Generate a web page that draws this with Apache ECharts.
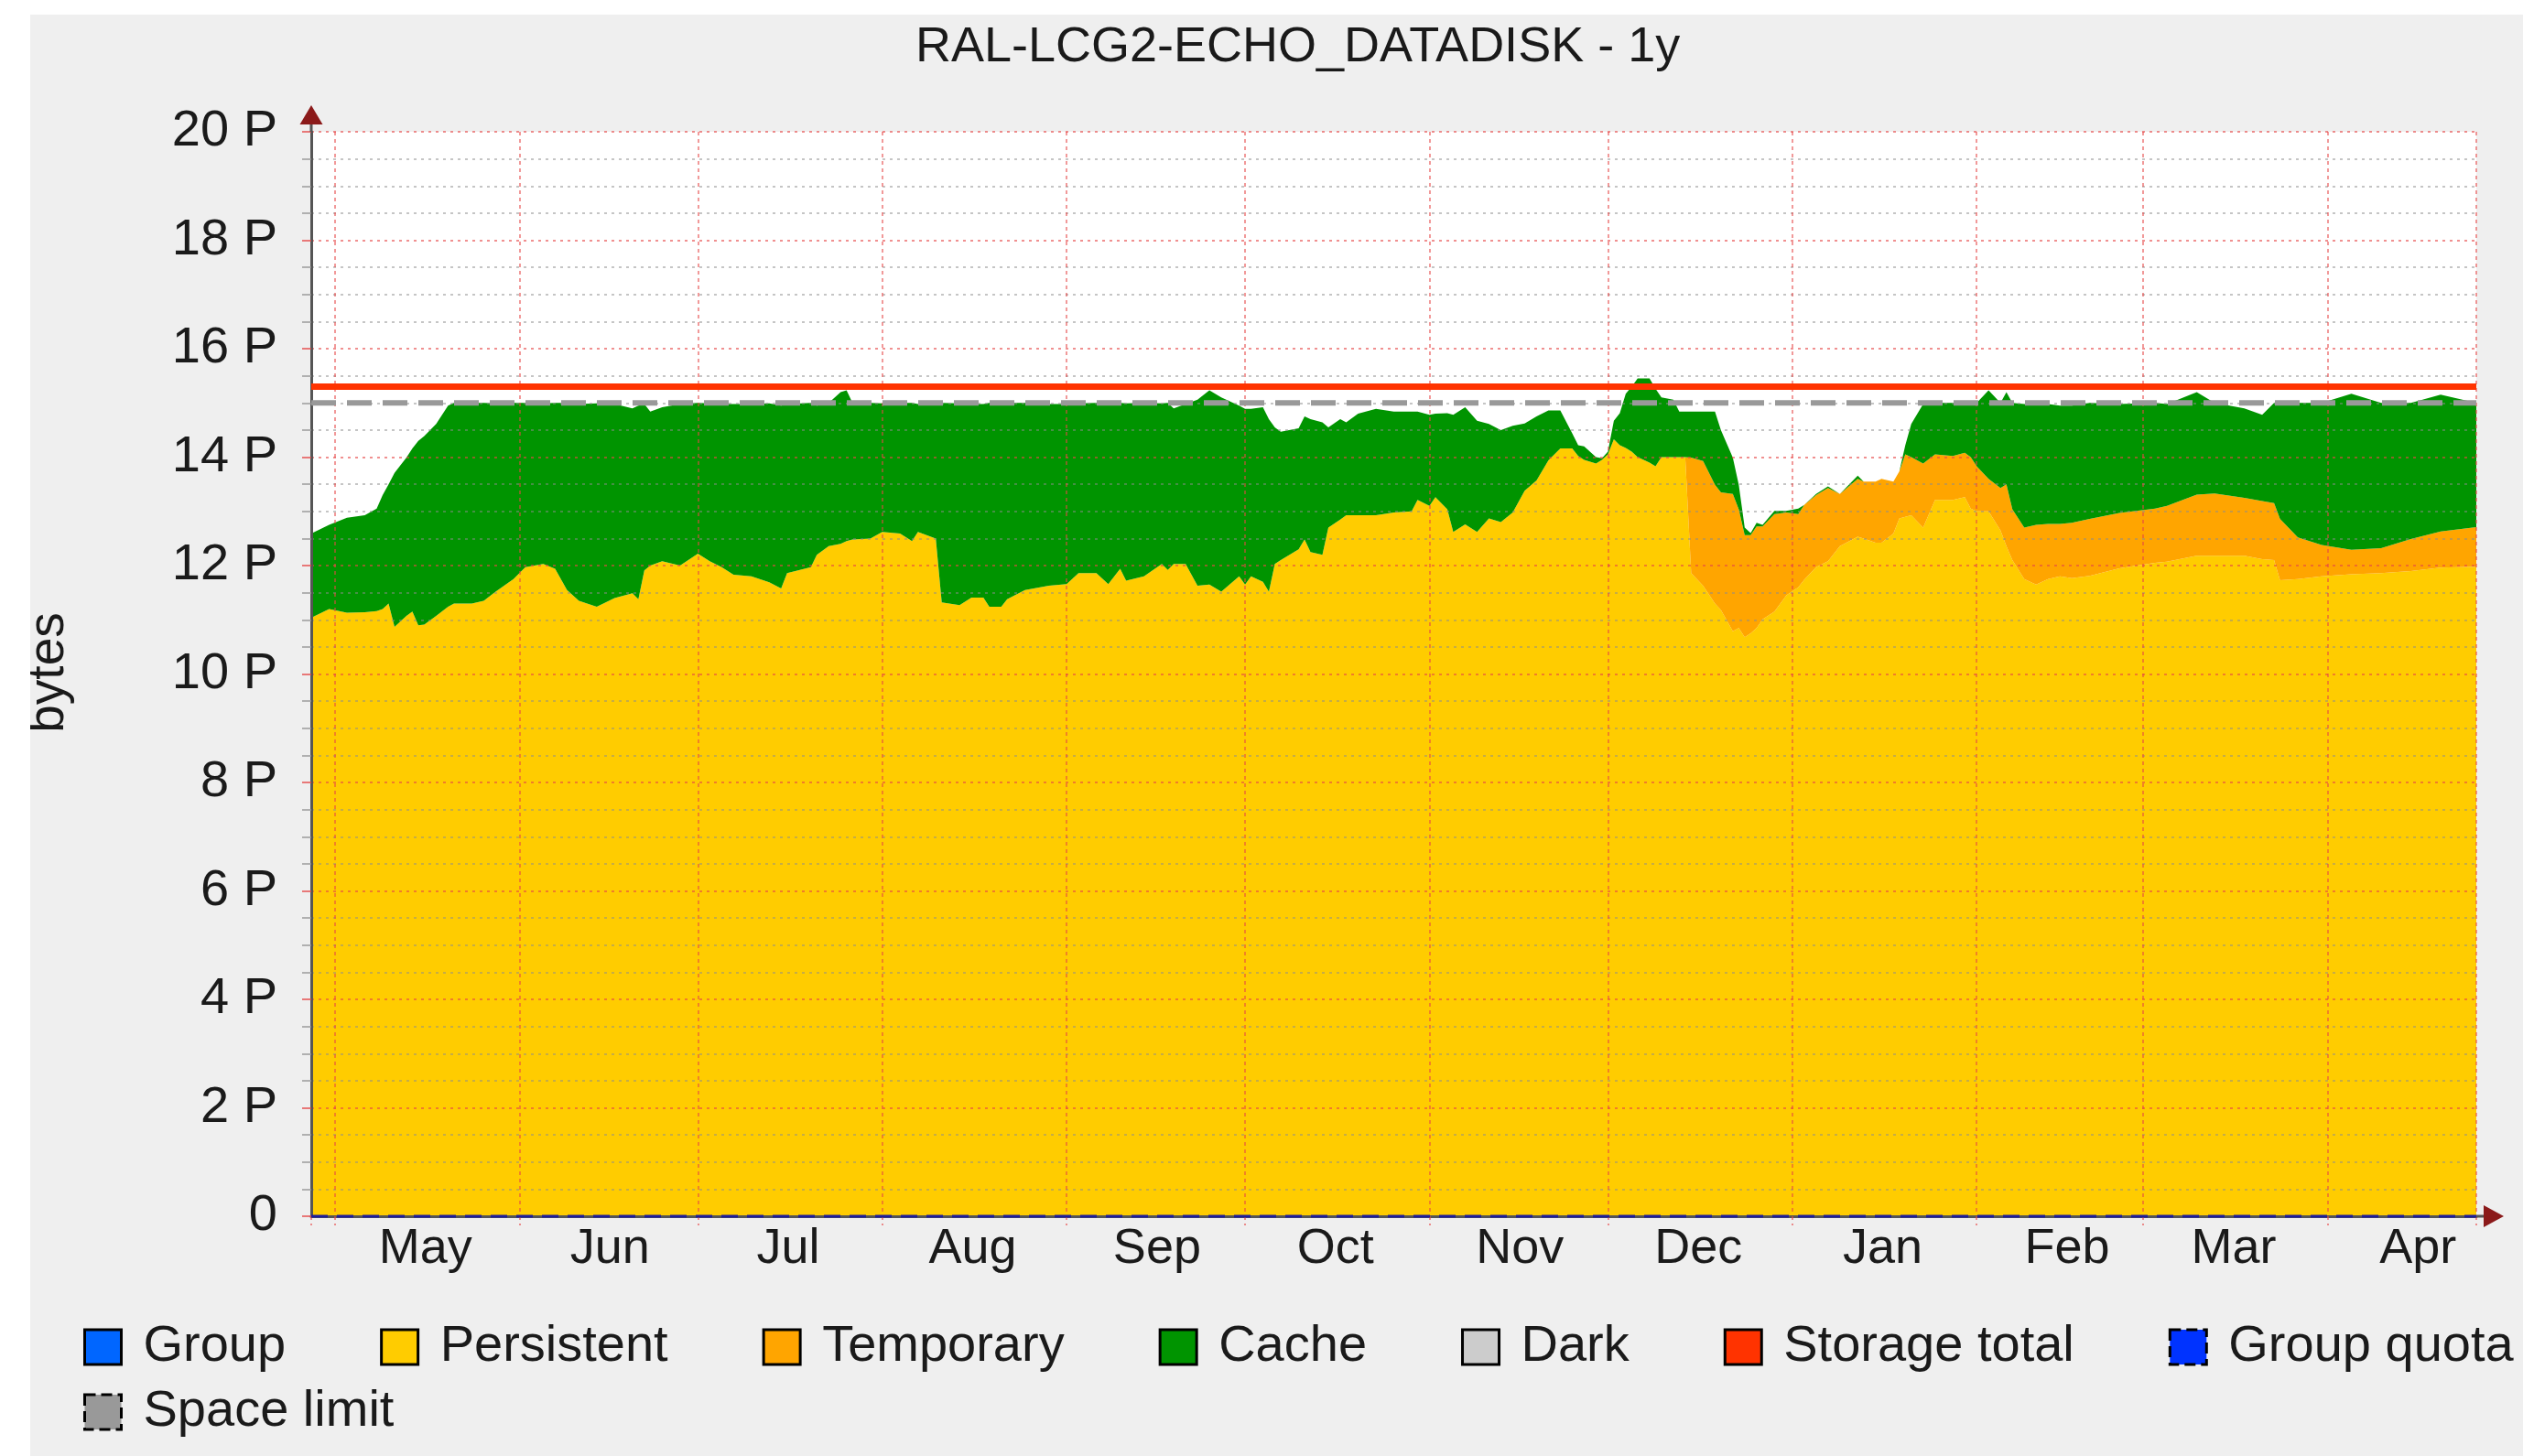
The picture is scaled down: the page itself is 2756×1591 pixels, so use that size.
<!DOCTYPE html>
<html>
<head>
<meta charset="utf-8">
<title>RAL-LCG2-ECHO_DATADISK - 1y</title>
<script src="https://cdn.jsdelivr.net/npm/echarts@6/dist/echarts.min.js"></script>
<style>
  html, body { margin: 0; padding: 0; background: #ffffff; }
  #chart { position: absolute; left: 33px; top: 16px; width: 2723px; height: 1575px; background: #efefef; }
</style>
</head>
<body>
<div id="chart"></div>
<script>
// sample dates
const dates = [
  '2022-04-27', '2022-04-30', '2022-05-03', '2022-05-06', '2022-05-08', '2022-05-09', '2022-05-10', '2022-05-11', '2022-05-13', '2022-05-14',
  '2022-05-15', '2022-05-16', '2022-05-18', '2022-05-20', '2022-05-21', '2022-05-24', '2022-05-26', '2022-05-28', '2022-05-31', '2022-06-02',
  '2022-06-05', '2022-06-07', '2022-06-09', '2022-06-11', '2022-06-14', '2022-06-17', '2022-06-20', '2022-06-21', '2022-06-22', '2022-06-23',
  '2022-06-25', '2022-06-28', '2022-07-01', '2022-07-03', '2022-07-05', '2022-07-07', '2022-07-10', '2022-07-13', '2022-07-15', '2022-07-16',
  '2022-07-20', '2022-07-21', '2022-07-23', '2022-07-25', '2022-07-26', '2022-07-27', '2022-07-30', '2022-08-01', '2022-08-04', '2022-08-06',
  '2022-08-07', '2022-08-10', '2022-08-11', '2022-08-14', '2022-08-16', '2022-08-18', '2022-08-19', '2022-08-21', '2022-08-22', '2022-08-25',
  '2022-08-29', '2022-09-01', '2022-09-03', '2022-09-06', '2022-09-08', '2022-09-10', '2022-09-11', '2022-09-14', '2022-09-17', '2022-09-18',
  '2022-09-19', '2022-09-21', '2022-09-23', '2022-09-25', '2022-09-27', '2022-09-30', '2022-10-01', '2022-10-02', '2022-10-04', '2022-10-05',
  '2022-10-06', '2022-10-07', '2022-10-10', '2022-10-11', '2022-10-12', '2022-10-14', '2022-10-15', '2022-10-17', '2022-10-18', '2022-10-20',
  '2022-10-23', '2022-10-26', '2022-10-29', '2022-10-30', '2022-11-01', '2022-11-02', '2022-11-04', '2022-11-05', '2022-11-07', '2022-11-09',
  '2022-11-11', '2022-11-13', '2022-11-15', '2022-11-17', '2022-11-19', '2022-11-21', '2022-11-23', '2022-11-25', '2022-11-26', '2022-11-27',
  '2022-11-29', '2022-11-30', '2022-12-01', '2022-12-02', '2022-12-03', '2022-12-04', '2022-12-05', '2022-12-06', '2022-12-08', '2022-12-09',
  '2022-12-10', '2022-12-12', '2022-12-13', '2022-12-14', '2022-12-15', '2022-12-17', '2022-12-19', '2022-12-20', '2022-12-22', '2022-12-23',
  '2022-12-24', '2022-12-25', '2022-12-26', '2022-12-27', '2022-12-29', '2022-12-31', '2023-01-02', '2023-01-03', '2023-01-05', '2023-01-07',
  '2023-01-09', '2023-01-12', '2023-01-13', '2023-01-15', '2023-01-16', '2023-01-18', '2023-01-19', '2023-01-20', '2023-01-21', '2023-01-23',
  '2023-01-25', '2023-01-28', '2023-01-30', '2023-01-31', '2023-02-01', '2023-02-03', '2023-02-05', '2023-02-06', '2023-02-07', '2023-02-09',
  '2023-02-11', '2023-02-13', '2023-02-15', '2023-02-17', '2023-02-20', '2023-02-25', '2023-03-03', '2023-03-05', '2023-03-10', '2023-03-13',
  '2023-03-18', '2023-03-21', '2023-03-23', '2023-03-24', '2023-03-27', '2023-03-31', '2023-04-05', '2023-04-10', '2023-04-15', '2023-04-20',
  '2023-04-26'
]

// petabytes
const persistent = [
  11.04, 11.2, 11.13, 11.14, 11.16, 11.2, 11.3, 10.87, 11.07, 11.15,
  10.9, 10.91, 11.07, 11.24, 11.3, 11.3, 11.35, 11.52, 11.75, 11.97,
  12.03, 11.94, 11.55, 11.35, 11.24, 11.4, 11.49, 11.38, 11.91, 12.0,
  12.08, 12.0, 12.22, 12.08, 11.97, 11.83, 11.8, 11.69, 11.58, 11.86,
  11.97, 12.2, 12.36, 12.4, 12.45, 12.48, 12.5, 12.62, 12.59, 12.45,
  12.62, 12.5, 11.32, 11.27, 11.41, 11.41, 11.24, 11.24, 11.38, 11.55,
  11.63, 11.66, 11.86, 11.86, 11.66, 11.94, 11.72, 11.8, 12.03, 11.92,
  12.03, 12.03, 11.63, 11.65, 11.52, 11.8, 11.65, 11.8, 11.7, 11.52,
  12.03, 12.1, 12.3, 12.48, 12.25, 12.2, 12.7, 12.85, 12.93, 12.93,
  12.93, 12.98, 13.0, 13.21, 13.1, 13.26, 13.04, 12.62, 12.76, 12.62,
  12.87, 12.8, 12.98, 13.38, 13.57, 13.94, 14.16, 14.16, 14.02, 13.95,
  13.88, 13.95, 14.05, 14.33, 14.22, 14.17, 14.1, 14.0, 13.9, 13.83,
  14.0, 14.0, 14.0, 14.0, 11.86, 11.63, 11.3, 11.18, 10.79, 10.85,
  10.68, 10.75, 10.85, 11.01, 11.15, 11.45, 11.6, 11.74, 11.97, 12.08,
  12.36, 12.53, 12.5, 12.42, 12.42, 12.59, 12.87, 12.9, 12.93, 12.7,
  13.21, 13.21, 13.26, 13.05, 13.0, 13.0, 12.65, 12.36, 12.1, 11.75,
  11.65, 11.75, 11.8, 11.77, 11.81, 11.95, 12.05, 12.07, 12.18, 12.18,
  12.18, 12.12, 12.1, 11.73, 11.75, 11.8, 11.84, 11.86, 11.9, 11.96,
  11.98
]

const temporary = [
  0, 0, 0, 0, 0, 0, 0, 0, 0, 0,
  0, 0, 0, 0, 0, 0, 0, 0, 0, 0,
  0, 0, 0, 0, 0, 0, 0, 0, 0, 0,
  0, 0, 0, 0, 0, 0, 0, 0, 0, 0,
  0, 0, 0, 0, 0, 0, 0, 0, 0, 0,
  0, 0, 0, 0, 0, 0, 0, 0, 0, 0,
  0, 0, 0, 0, 0, 0, 0, 0, 0, 0,
  0, 0, 0, 0, 0, 0, 0, 0, 0, 0,
  0, 0, 0, 0, 0, 0, 0, 0, 0, 0,
  0, 0, 0, 0, 0, 0, 0, 0, 0, 0,
  0, 0, 0, 0, 0, 0, 0, 0, 0, 0,
  0, 0, 0, 0, 0, 0, 0, 0, 0, 0,
  0, 0, 0, 0, 2.13, 2.3, 2.19, 2.17, 2.53, 2.19,
  1.88, 1.81, 1.87, 1.71, 1.8, 1.53, 1.35, 1.38, 1.33, 1.35,
  0.96, 1.07, 1.05, 1.13, 1.18, 0.96, 0.87, 1.15, 1.07, 1.18,
  0.84, 0.81, 0.82, 0.95, 0.83, 0.6, 0.78, 1.14, 0.94, 0.95,
  1.1, 1.02, 0.97, 1.02, 1.05, 1.02, 1.0, 1.03, 1.13, 1.15,
  1.07, 1.07, 1.05, 1.13, 0.77, 0.58, 0.45, 0.46, 0.59, 0.67,
  0.73
]

const cache = [
  1.55, 1.55, 1.75, 1.79, 1.89, 2.1, 2.2, 2.84, 2.92, 3.01,
  3.4, 3.48, 3.54, 3.71, 3.7, 3.7, 3.65, 3.47, 3.25, 3.03,
  2.96, 3.06, 3.45, 3.63, 3.75, 3.58, 3.41, 3.57, 3.07, 2.84,
  2.84, 2.98, 2.78, 2.91, 3.01, 3.15, 3.18, 3.3, 3.37, 3.12,
  3.03, 2.75, 2.64, 2.8, 2.78, 2.52, 2.5, 2.37, 2.41, 2.55,
  2.36, 2.5, 3.68, 3.72, 3.57, 3.57, 3.76, 3.76, 3.62, 3.45,
  3.35, 3.32, 3.13, 3.14, 3.34, 3.06, 3.27, 3.2, 2.96, 3.08,
  2.87, 2.95, 3.43, 3.58, 3.58, 3.15, 3.24, 3.09, 3.22, 3.18,
  2.52, 2.37, 2.23, 2.27, 2.45, 2.44, 1.85, 1.85, 1.71, 1.87,
  1.96, 1.86, 1.84, 1.63, 1.68, 1.54, 1.77, 2.16, 2.16, 2.05,
  1.74, 1.7, 1.6, 1.24, 1.18, 0.92, 0.7, 0.28, 0.2, 0.25,
  0.12, 0.03, 0.05, 0.34, 0.59, 1.0, 1.2, 1.45, 1.55, 1.43,
  1.1, 1.06, 0.84, 0.84, 0.85, 0.91, 1.35, 1.15, 0.67, 0.45,
  0.14, 0.04, 0.07, 0.03, 0.06, 0.03, 0.1, 0, 0.02, 0.03,
  0, 0.06, 0, 0, 0, 0, 0, 0.17, 0.61, 1.1,
  0.95, 0.98, 0.92, 1.0, 1.17, 1.63, 1.57, 1.7, 1.96, 2.28,
  2.23, 2.21, 2.18, 2.16, 2.14, 2.01, 1.95, 1.88, 1.89, 1.67,
  1.65, 1.59, 1.85, 2.14, 2.48, 2.62, 2.88, 2.68, 2.51, 2.52,
  2.29
]

const storageTotal = 15.3
const spaceLimit = 15.0
const groupQuota = 0

const monthNames = ['Jan', 'Feb', 'Mar', 'Apr', 'May', 'Jun', 'Jul', 'Aug', 'Sep', 'Oct', 'Nov', 'Dec']
const yTicks = { min: 0, max: 20, step: 2 }

const FONT = '"Liberation Sans", Arial, Helvetica, sans-serif'
const DAY = 24 * 3600 * 1000

const toTime = s => {
  const p = s.split('-').map(Number)
  return new Date(p[0], p[1] - 1, p[2]).getTime()
}
const times = dates.map(toTime)
const start = times[0]
const end = times[times.length - 1]
const pairs = arr => times.map((t, i) => [t, arr[i]])
const flat = v => [[start, v], [end, v]]
// the month names sit in the middle of each month, so the label axis is shifted by half a month
const labelShift = 15.2 * DAY

// plot box inside the #chart div
const G = { left: 307, right: 51, top: 128, bottom: 262 }
const W = 2723
const H = 1575
const axisX = G.left
const axisY = H - G.bottom
const plotRight = W - G.right

const area = (name, data, color) => ({
  name: name,
  type: 'line',
  stack: 'usage',
  data: data,
  symbol: 'none',
  showSymbol: false,
  lineStyle: { width: 0 },
  areaStyle: { color: color, opacity: 1 },
  itemStyle: { color: color },
  silent: true,
  z: 2
})

const icon = (color, dashed) => ({
  color: color,
  borderColor: '#000000',
  borderWidth: 3,
  borderType: dashed ? 'dashed' : 'solid'
})

const legendText = {
  fontSize: 56,
  color: '#1a1a1a',
  fontFamily: FONT,
  padding: [0, 0, 0, 19]
}

const chart = echarts.init(document.getElementById('chart'), null, { renderer: 'canvas' })

const option = {
  animation: false,
  backgroundColor: 'transparent',
  textStyle: { fontFamily: FONT },
  title: {
    text: 'RAL-LCG2-ECHO_DATADISK - 1y',
    left: 962,
    top: 4,
    textStyle: { fontSize: 54, fontWeight: 'normal', color: '#1a1a1a', fontFamily: FONT }
  },
  grid: {
    left: G.left,
    right: G.right,
    top: G.top,
    bottom: G.bottom,
    show: true,
    backgroundColor: '#ffffff',
    borderWidth: 0,
    containLabel: false,
    outerBoundsMode: 'none'
  },
  legend: [
    {
      data: [
        { name: 'Group', itemStyle: icon('#0066ff') },
        { name: 'Persistent', itemStyle: icon('#ffcc00') },
        { name: 'Temporary', itemStyle: icon('#ffa500') },
        { name: 'Cache', itemStyle: icon('#009400') },
        { name: 'Dark', itemStyle: icon('#cccccc') },
        { name: 'Storage total', itemStyle: icon('#ff3300') },
        { name: 'Group quota', itemStyle: icon('#0033ff', true) }
      ],
      left: 53,
      top: 1423,
      width: 2800,
      orient: 'horizontal',
      icon: 'rect',
      itemWidth: 40,
      itemHeight: 38,
      itemGap: 103,
      selectedMode: false,
      textStyle: legendText
    },
    {
      data: [{ name: 'Space limit', itemStyle: icon('#999999', true) }],
      left: 53,
      top: 1494,
      orient: 'horizontal',
      icon: 'rect',
      itemWidth: 40,
      itemHeight: 38,
      selectedMode: false,
      textStyle: legendText
    }
  ],
  xAxis: [
    {
      type: 'time',
      min: start,
      max: end,
      splitNumber: 12,
      minInterval: 28 * DAY,
      maxInterval: 31 * DAY,
      z: 3,
      axisLine: { show: true, onZero: true, lineStyle: { color: '#555555', width: 3 } },
      axisTick: { show: true, length: 10, lineStyle: { color: 'rgba(230,70,70,0.6)', width: 2, type: [4, 4] } },
      axisLabel: { show: false },
      splitLine: { show: true, lineStyle: { color: 'rgba(230,70,70,0.55)', width: 2, type: [4, 4] } }
    },
    {
      type: 'time',
      position: 'bottom',
      min: start - labelShift,
      max: end - labelShift,
      splitNumber: 12,
      minInterval: 28 * DAY,
      maxInterval: 31 * DAY,
      axisLine: { show: false },
      axisTick: { show: false },
      splitLine: { show: false },
      axisLabel: {
        show: true,
        margin: 9,
        fontSize: 54,
        color: '#1a1a1a',
        fontFamily: FONT,
        showMinLabel: false,
        showMaxLabel: false,
        hideOverlap: false,
        formatter: v => monthNames[new Date(v).getMonth()]
      }
    }
  ],
  yAxis: {
    type: 'value',
    min: yTicks.min,
    max: yTicks.max,
    interval: yTicks.step,
    z: 3,
    axisLine: { show: true, lineStyle: { color: '#555555', width: 3 } },
    axisTick: { show: true, length: 10, lineStyle: { color: 'rgba(230,70,70,0.7)', width: 2 } },
    minorTick: { show: true, splitNumber: 4, length: 10, lineStyle: { color: 'rgba(150,150,150,0.7)', width: 2 } },
    axisLabel: {
      margin: 37,
      fontSize: 56,
      color: '#1a1a1a',
      fontFamily: FONT,
      formatter: v => (v === 0 ? '0' : v + ' P')
    },
    splitLine: { show: true, lineStyle: { color: 'rgba(230,70,70,0.6)', width: 2, type: [3, 5] } },
    minorSplitLine: { show: true, lineStyle: { color: 'rgba(140,140,140,0.5)', width: 2, type: [3, 5] } }
  },
  series: [
    area('Group', [], '#0066ff'),
    area('Persistent', pairs(persistent), '#ffcc00'),
    area('Temporary', pairs(temporary), '#ffa500'),
    area('Cache', pairs(cache), '#009400'),
    area('Dark', [], '#cccccc'),
    {
      name: 'Storage total',
      type: 'line',
      data: flat(storageTotal),
      symbol: 'none',
      lineStyle: { color: '#ff3300', width: 7 },
      itemStyle: { color: '#ff3300' },
      silent: true,
      z: 5
    },
    {
      name: 'Group quota',
      type: 'line',
      data: flat(groupQuota),
      symbol: 'none',
      clip: false,
      lineStyle: { color: '#1c1c9c', width: 3, type: [18, 10] },
      itemStyle: { color: '#0033ff' },
      silent: true,
      z: 5
    },
    {
      name: 'Space limit',
      type: 'line',
      data: flat(spaceLimit),
      symbol: 'none',
      lineStyle: { color: '#999999', width: 6, type: [27, 12] },
      itemStyle: { color: '#999999' },
      silent: true,
      z: 5
    }
  ],
  graphic: [
    {
      type: 'text',
      x: 21,
      y: 719,
      rotation: Math.PI / 2,
      style: { text: 'bytes', fontSize: 55, fontFamily: FONT, fill: '#1a1a1a', align: 'center', verticalAlign: 'middle' }
    },
    // axis arrows
    { type: 'line', z: 100, shape: { x1: axisX, y1: G.top, x2: axisX, y2: G.top - 8 }, style: { stroke: '#555555', lineWidth: 3 } },
    { type: 'polygon', z: 100, shape: { points: [[axisX, G.top - 29], [axisX - 12.5, G.top - 8], [axisX + 12.5, G.top - 8]] }, style: { fill: '#8b1a1a' } },
    { type: 'line', z: 100, shape: { x1: plotRight, y1: axisY, x2: plotRight + 8, y2: axisY }, style: { stroke: '#555555', lineWidth: 3 } },
    { type: 'polygon', z: 100, shape: { points: [[plotRight + 30, axisY], [plotRight + 8, axisY - 12], [plotRight + 8, axisY + 12]] }, style: { fill: '#8b1a1a' } }
  ]
}

chart.setOption(option)
</script>
</body>
</html>
